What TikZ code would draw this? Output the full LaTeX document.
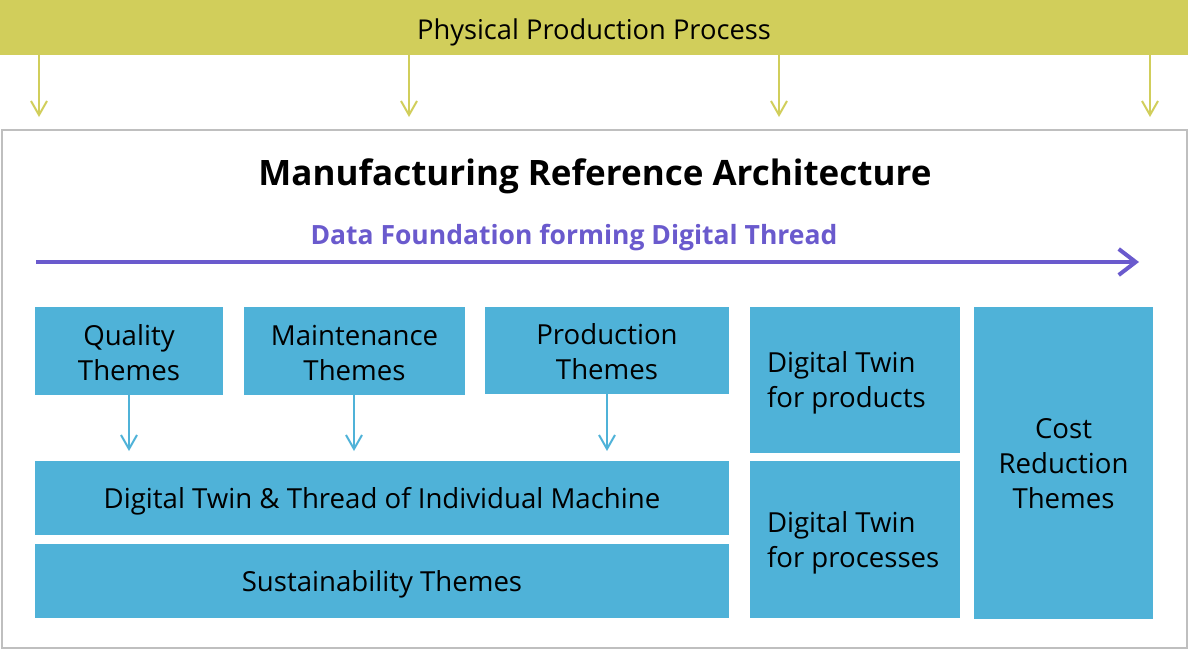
\documentclass[tikz,border=0pt]{standalone}
\usepackage{fontspec}
\setmainfont{Open Sans}
\usetikzlibrary{arrows.meta}
\definecolor{olive}{HTML}{D1CE5B}
\definecolor{boxblue}{HTML}{4FB2D8}
\definecolor{purp}{HTML}{6A5ACD}
\definecolor{frame}{HTML}{BFBFBF}
\tikzset{
  box/.style={fill=boxblue, draw=none, inner sep=0pt, outer sep=0pt, anchor=north west},
  lbl/.style={inner sep=0pt, outer sep=0pt, align=center, font=\fontsize{27.6}{35}\selectfont},
  oarrow/.style={draw=olive, line width=2pt, -{Straight Barb[length=14pt,width=16pt,line width=2pt]}},
  barrow/.style={draw=boxblue, line width=2pt, -{Straight Barb[length=14pt,width=16pt,line width=2pt]}},
}
\begin{document}
\begin{tikzpicture}[x=1pt,y=1pt]
\useasboundingbox (0,0) rectangle (1188,-649);
% top bar
\node[fill=olive, inner sep=0pt, outer sep=0pt, anchor=north west, minimum width=1188pt, minimum height=55pt] (bar) at (0,0) {};
\node[font=\fontsize{27.3}{32}\selectfont, inner sep=0pt] (bartext) at (594,-32) {Physical Production Process};
% frame
\node[draw=frame, line width=2pt, inner sep=0pt, outer sep=0pt, anchor=north west, minimum width=1185pt, minimum height=518pt] (frm) at (1.5,-129.5) {};
% arrows from bar
\foreach \x/\n in {39/a1,409/a2,779/a3,1150/a4}{
  \coordinate (\n s) at (\x,-55);
  \coordinate (\n e) at (\x,-117);
  \draw[oarrow] (\n s) -- (\n e);
}
% title
\node[font=\fontsize{35}{40}\selectfont\bfseries, inner sep=0pt] (title) at (595,-176) {Manufacturing Reference Architecture};
\node[font=\fontsize{26.5}{30}\selectfont\bfseries, text=purp, inner sep=0pt] (dflabel) at (574,-238) {Data Foundation forming Digital Thread};
\coordinate (dfs) at (36,-262);
\coordinate (dfe) at (1139,-262);
\draw[draw=purp, line width=4pt, -{Straight Barb[length=17pt,width=26pt,line width=4pt]}] (dfs) -- (dfe);
% boxes
\node[box, minimum width=188pt, minimum height=88pt] (qual) at (35,-307) {};
\node[box, minimum width=221pt, minimum height=88pt] (maint) at (244,-307) {};
\node[box, minimum width=244pt, minimum height=87pt] (prod) at (485,-307) {};
\node[box, minimum width=694pt, minimum height=74pt] (dtt) at (35,-461) {};
\node[box, minimum width=694pt, minimum height=74pt] (sust) at (35,-544) {};
\node[box, minimum width=210pt, minimum height=146pt] (dtp) at (750,-307) {};
\node[box, minimum width=210pt, minimum height=157pt] (dtpr) at (750,-461) {};
\node[box, minimum width=179pt, minimum height=312pt] (cost) at (974,-307) {};
% labels
\node[lbl] (qualt) at ([yshift=-2pt]qual.center) {Quality\\Themes};
\node[lbl] (maintt) at ([yshift=-2pt]maint.center) {Maintenance\\Themes};
\node[lbl] (prodt) at ([yshift=-1pt]prod.center) {Production\\Themes};
\node[lbl] (dttt) at ([yshift=-3pt]dtt.center) {Digital Twin \& Thread of Individual Machine};
\node[lbl] (sustt) at ([yshift=-3pt]sust.center) {Sustainability Themes};
\node[lbl, anchor=west, align=left] (dtpt) at (767,-383) {Digital Twin\\for products};
\node[lbl, anchor=west, align=left] (dtprt) at (767,-543) {Digital Twin\\for processes};
\node[lbl] (costt) at ([yshift=-1pt]cost.center) {Cost\\Reduction\\Themes};
% small arrows
\foreach \n/\x in {qual/129,maint/354,prod/607}{
  \coordinate (\n e) at (\x,-451);
  \draw[barrow] (\n.south -| \n e) -- (\n e);
}
\end{tikzpicture}
\end{document}
